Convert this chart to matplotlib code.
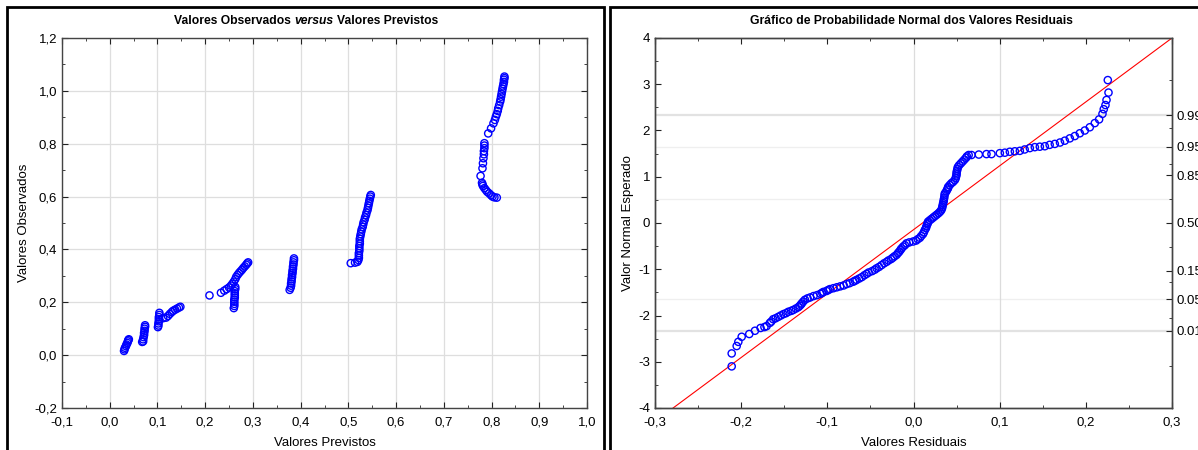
import numpy as np
import matplotlib.pyplot as plt
from matplotlib.patches import Rectangle
from matplotlib.ticker import FixedLocator, MultipleLocator, FuncFormatter
from matplotlib.offsetbox import TextArea, HPacker, AnnotationBbox

plt.rcParams['font.family'] = ['Liberation Sans', 'DejaVu Sans']
plt.rcParams['axes.unicode_minus'] = False

# --- left panel: observed vs predicted, one list per cluster ---
c1_x = [0.030, 0.031, 0.032, 0.034, 0.035, 0.037, 0.038, 0.039, 0.040]
c1_y = [0.016, 0.022, 0.028, 0.034, 0.040, 0.046, 0.052, 0.057, 0.060]
c2_x = [0.068, 0.070, 0.070, 0.071, 0.072, 0.072, 0.073, 0.073, 0.074, 0.074]
c2_y = [0.050, 0.052, 0.060, 0.068, 0.076, 0.084, 0.092, 0.100, 0.107, 0.113]
c3_x = [0.101, 0.102, 0.102, 0.103, 0.103, 0.103, 0.104, 0.104,
        0.112, 0.118, 0.122, 0.126, 0.130, 0.133, 0.137, 0.141, 0.145, 0.148]
c3_y = [0.106, 0.112, 0.120, 0.128, 0.136, 0.144, 0.152, 0.160,
        0.140, 0.142, 0.148, 0.156, 0.163, 0.168, 0.172, 0.176, 0.180, 0.183]
c4_x = [0.209, 0.233, 0.240, 0.245, 0.250, 0.254,
        0.257, 0.260, 0.263, 0.265, 0.268, 0.271, 0.274, 0.277, 0.280, 0.283, 0.286, 0.288, 0.290,
        0.260, 0.261, 0.261, 0.261, 0.261, 0.262, 0.262, 0.262, 0.262, 0.263, 0.263]
c4_y = [0.226, 0.236, 0.244, 0.250, 0.256, 0.263,
        0.270, 0.278, 0.287, 0.296, 0.304, 0.311, 0.317, 0.323, 0.330, 0.336, 0.342, 0.347, 0.351,
        0.178, 0.186, 0.194, 0.202, 0.210, 0.218, 0.226, 0.234, 0.242, 0.250, 0.258]
c5_x = [0.377, 0.379, 0.380, 0.380, 0.381, 0.381, 0.382, 0.382, 0.383, 0.383,
        0.384, 0.384, 0.385, 0.385, 0.386, 0.386]
c5_y = [0.247, 0.255, 0.263, 0.271, 0.279, 0.287, 0.295, 0.303, 0.311, 0.319,
        0.327, 0.335, 0.343, 0.351, 0.359, 0.366]
c6_x = [0.505, 0.514, 0.519, 0.521, 0.522, 0.522, 0.522, 0.523, 0.523, 0.523, 0.524,
        0.524, 0.524, 0.525, 0.526, 0.527, 0.528, 0.530, 0.531, 0.532, 0.534, 0.535,
        0.537, 0.538, 0.540, 0.541, 0.542, 0.543, 0.544, 0.545, 0.546, 0.547]
c6_y = [0.348, 0.350, 0.353, 0.360, 0.368, 0.377, 0.386, 0.395, 0.404, 0.413, 0.422,
        0.431, 0.440, 0.449, 0.458, 0.467, 0.476, 0.485, 0.494, 0.503, 0.512, 0.521,
        0.530, 0.539, 0.548, 0.557, 0.566, 0.575, 0.584, 0.592, 0.600, 0.606]
c7_x = [0.811, 0.806, 0.802, 0.799, 0.795, 0.791, 0.788, 0.785, 0.782, 0.781, 0.780,
        0.777, 0.781, 0.782, 0.783, 0.784, 0.784, 0.785, 0.785, 0.785,
        0.793, 0.799, 0.804, 0.807, 0.809, 0.811, 0.813, 0.814, 0.816, 0.818, 0.819,
        0.820, 0.821, 0.822, 0.823, 0.824, 0.825, 0.826, 0.826, 0.827, 0.827]
c7_y = [0.596, 0.597, 0.600, 0.605, 0.612, 0.618, 0.625, 0.632, 0.640, 0.646, 0.652,
        0.678, 0.707, 0.726, 0.745, 0.760, 0.772, 0.783, 0.793, 0.802,
        0.839, 0.858, 0.877, 0.890, 0.902, 0.912, 0.924, 0.934, 0.946, 0.959, 0.968,
        0.978, 0.988, 0.998, 1.008, 1.017, 1.026, 1.034, 1.042, 1.048, 1.054]

prev_x = c1_x + c2_x + c3_x + c4_x + c5_x + c6_x + c7_x
obs_y = c1_y + c2_y + c3_y + c4_y + c5_y + c6_y + c7_y

# --- right panel: residuals vs expected normal value ---
low_resid = [-0.211, -0.211, -0.2052, -0.2033, -0.1994, -0.1906, -0.184, -0.1775, -0.173,
             -0.1705, -0.1667, -0.165, -0.1628, -0.160, -0.157, -0.154, -0.151, -0.148,
             -0.1453, -0.142, -0.1395, -0.1365, -0.1337, -0.132, -0.1305]
low_z = [-3.10, -2.82, -2.66, -2.57, -2.46, -2.40, -2.33, -2.27, -2.25,
         -2.23, -2.16, -2.13, -2.08, -2.06, -2.03, -2.00, -1.97, -1.95,
         -1.92, -1.90, -1.88, -1.85, -1.82, -1.79, -1.76]
mid_resid = [-0.1298, -0.128, -0.126, -0.123, -0.120, -0.116, -0.112, -0.108, -0.106, -0.1046,
             -0.101, -0.099, -0.097, -0.093, -0.089, -0.085, -0.081, -0.0775, -0.074, -0.070,
             -0.068, -0.066, -0.063, -0.060, -0.057, -0.0544, -0.052, -0.048, -0.045, -0.0428,
             -0.040, -0.037, -0.034, -0.0312, -0.029, -0.026, -0.024, -0.022, -0.0197, -0.018,
             -0.0165, -0.015, -0.0139, -0.012, -0.010, -0.0081, -0.005, -0.0004, 0.003, 0.005,
             0.0074, 0.009, 0.011, 0.012, 0.0132, 0.0145, 0.015, 0.016, 0.0165, 0.017,
             0.019, 0.021, 0.023, 0.025, 0.027, 0.029, 0.0306, 0.032, 0.033, 0.0335,
             0.034, 0.0344, 0.035, 0.0352, 0.0357, 0.036, 0.0364, 0.038, 0.039, 0.040,
             0.0402, 0.042, 0.044, 0.046, 0.048, 0.049, 0.0495, 0.050, 0.050, 0.0505,
             0.051, 0.0515, 0.053, 0.055, 0.057, 0.059, 0.061, 0.062, 0.064]
mid_z = [-1.74, -1.70, -1.66, -1.63, -1.61, -1.58, -1.56, -1.53, -1.51, -1.49,
         -1.47, -1.45, -1.43, -1.41, -1.39, -1.37, -1.35, -1.32, -1.30, -1.27,
         -1.25, -1.23, -1.20, -1.17, -1.13, -1.10, -1.07, -1.04, -1.01, -0.98,
         -0.95, -0.91, -0.87, -0.84, -0.81, -0.78, -0.75, -0.72, -0.69, -0.65,
         -0.62, -0.58, -0.55, -0.51, -0.48, -0.44, -0.42, -0.40, -0.38, -0.35,
         -0.32, -0.28, -0.24, -0.20, -0.15, -0.11, -0.07, -0.03, 0.00, 0.03,
         0.06, 0.09, 0.12, 0.15, 0.18, 0.21, 0.24, 0.27, 0.31, 0.35,
         0.39, 0.43, 0.47, 0.51, 0.55, 0.60, 0.64, 0.68, 0.72, 0.75,
         0.78, 0.82, 0.86, 0.89, 0.93, 0.97, 1.01, 1.05, 1.09, 1.13,
         1.17, 1.21, 1.25, 1.29, 1.33, 1.37, 1.41, 1.44, 1.47]
high_resid = [0.0673, 0.0758, 0.0847, 0.0905, 0.1002, 0.106, 0.1118, 0.1176, 0.1234, 0.129,
              0.135, 0.1408, 0.1466, 0.1524, 0.158, 0.164, 0.170, 0.1756, 0.1814, 0.1872,
              0.193, 0.1988, 0.2046, 0.2104, 0.2154, 0.2193, 0.2208, 0.2228, 0.224, 0.2263, 0.2255]
high_z = [1.47, 1.48, 1.49, 1.49, 1.51, 1.52, 1.54, 1.55, 1.56, 1.59,
          1.62, 1.64, 1.65, 1.66, 1.69, 1.71, 1.74, 1.78, 1.83, 1.88,
          1.94, 2.00, 2.07, 2.16, 2.24, 2.36, 2.46, 2.55, 2.66, 2.82, 3.09]

resid_x = low_resid + mid_resid + high_resid
normal_z = low_z + mid_z + high_z

# fitted reference line (end points)
line_x = [-0.279, 0.30]
line_z = [-4.0, 4.0]

# probability scale on the right side
prob_z = [-2.326, -1.645, -1.036, 0.0, 1.036, 1.645, 2.326]
prob_labels = ['0.01', '0.05', '0.15', '0.50', '0.85', '0.95', '0.99']
prob_minor_z = [-3.09, -2.054, -1.282, -0.524, 0.524, 1.282, 2.054, 3.09]
prob_grid_z = [-2.326, -1.645, 0.524, 1.645, 2.326]

W, H = 1198.0, 450.0


def px_box(x0, y0, x1, y1):
    return [x0 / W, 1 - y1 / H, (x1 - x0) / W, (y1 - y0) / H]


def comma(v, pos):
    return ('%.1f' % (round(v, 3) + 0.0)).replace('.', ',')


fig = plt.figure(figsize=(W / 100, H / 100), dpi=100)
fig.patch.set_facecolor('white')

# panel frames
fig.add_artist(Rectangle((7 / W, -0.05), 597 / W, 1.05 - 7 / H, transform=fig.transFigure,
                         fill=False, ec='black', lw=2))
fig.add_artist(Rectangle((610 / W, -0.05), 0.6, 1.05 - 7 / H, transform=fig.transFigure,
                         fill=False, ec='black', lw=2))

mk = dict(marker='o', s=27, facecolors='none', edgecolors='#0000ff', linewidths=1.0, zorder=3)
tick_fs = 9.5

# ---------------- left panel ----------------
ax1 = fig.add_axes(px_box(62, 38, 587, 408))
ax1.scatter(prev_x, obs_y, **mk)
ax1.set_xlim(-0.1, 1.0)
ax1.set_ylim(-0.2, 1.2)
ax1.xaxis.set_major_locator(MultipleLocator(0.1))
ax1.yaxis.set_major_locator(MultipleLocator(0.2))
ax1.xaxis.set_minor_locator(MultipleLocator(0.05))
ax1.yaxis.set_minor_locator(MultipleLocator(0.1))
ax1.xaxis.set_major_formatter(FuncFormatter(comma))
ax1.yaxis.set_major_formatter(FuncFormatter(comma))
ax1.grid(True, which='major', color='#dedede', lw=0.9)
ax1.set_axisbelow(True)
ax1.set_xlabel('Valores Previstos', fontsize=tick_fs, labelpad=6)
ax1.set_ylabel('Valores Observados', fontsize=tick_fs, labelpad=3)

# ---------------- right panel ----------------
ax2 = fig.add_axes(px_box(655, 38, 1172, 408))
for gz in prob_grid_z:
    strong = abs(gz) > 2
    ax2.axhline(gz, color='#e2e2e2' if strong else '#efefef', lw=1.6 if strong else 0.9, zorder=0)
for gx in [0.0, 0.1]:
    ax2.axvline(gx, color='#dcdcdc', lw=0.9, zorder=0)
ax2.plot(line_x, line_z, color='#ff0000', lw=0.8, zorder=2)
ax2.scatter(resid_x, normal_z, **mk)
ax2.set_xlim(-0.3, 0.3)
ax2.set_ylim(-4, 4)
ax2.xaxis.set_major_locator(MultipleLocator(0.1))
ax2.yaxis.set_major_locator(MultipleLocator(1))
ax2.xaxis.set_minor_locator(MultipleLocator(0.05))
ax2.yaxis.set_minor_locator(MultipleLocator(0.5))
ax2.xaxis.set_major_formatter(FuncFormatter(comma))
ax2.yaxis.set_major_formatter(FuncFormatter(lambda v, p: '%d' % v))
ax2.set_xlabel('Valores Residuais', fontsize=tick_fs, labelpad=6)
ax2.set_ylabel('Valor Normal Esperado', fontsize=tick_fs, labelpad=3)

ax2r = ax2.twinx()
ax2r.set_ylim(-4, 4)
ax2r.yaxis.set_major_locator(FixedLocator(prob_z))
ax2r.yaxis.set_minor_locator(FixedLocator(prob_minor_z))
ax2r.set_yticklabels(prob_labels)

for ax in (ax1, ax2):
    ax.tick_params(which='both', direction='in', top=True, right=(ax is ax1),
                   labelsize=tick_fs, colors='#222222', labelcolor='black')
    ax.tick_params(which='major', length=4)
    ax.tick_params(which='minor', length=2)
    ax.tick_params(axis='x', pad=6)
ax2r.tick_params(which='both', direction='in', labelsize=tick_fs, colors='#222222',
                 labelcolor='black')
ax2r.tick_params(which='major', length=4)
ax2r.tick_params(which='minor', length=2)
for ax in (ax1, ax2, ax2r):
    for sp in ax.spines.values():
        sp.set_color('#444444')
        sp.set_linewidth(1.0)

# titles (left one has "versus" in italic)
tp = dict(fontsize=8.7, fontweight='bold', color='black')
title1 = HPacker(children=[TextArea('Valores Observados', textprops=tp),
                           TextArea('versus', textprops=dict(tp, fontstyle='italic')),
                           TextArea('Valores Previstos', textprops=tp)],
                 align='baseline', pad=0, sep=2.4)
fig.add_artist(AnnotationBbox(title1, (306 / W, 1 - 21 / H), xycoords='figure fraction',
                              frameon=False, box_alignment=(0.5, 0.5)))
fig.text(911 / W, 1 - 21 / H, 'Gráfico de Probabilidade Normal dos Valores Residuais',
         ha='center', va='center', **tp)

fig.savefig('out.png', dpi=100)
